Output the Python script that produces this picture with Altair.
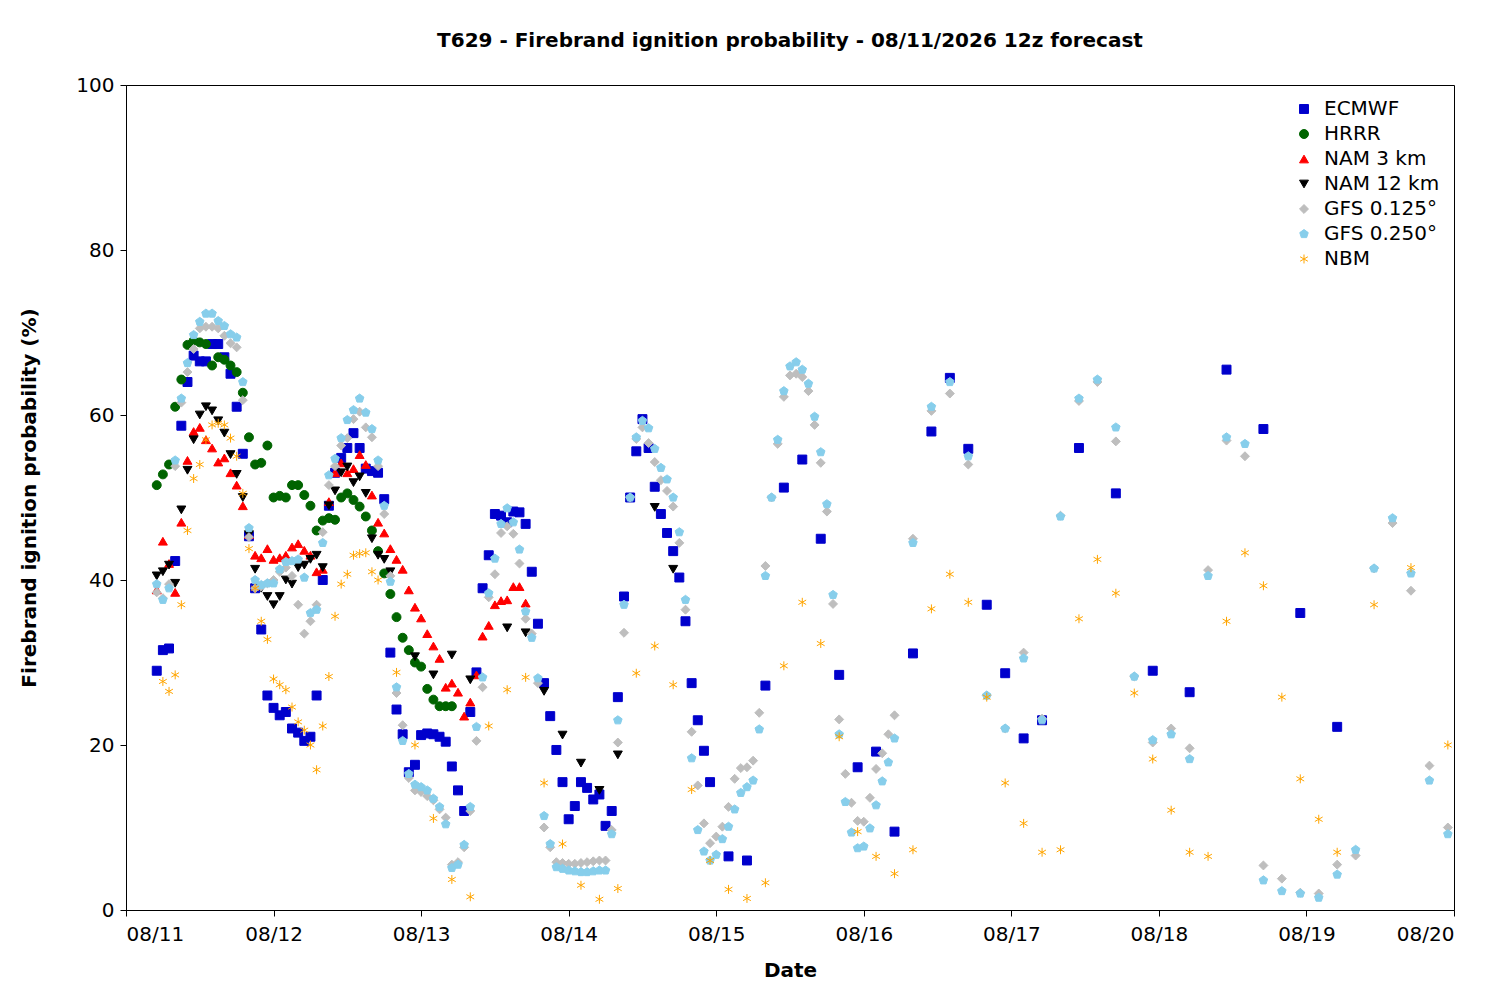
import altair as alt
import pandas as pd

MODELS = ["ECMWF", "HRRR", "NAM 3 km", "NAM 12 km", "GFS 0.125°", "GFS 0.250°", "NBM"]
COLORS = ["#0000cc", "#006400", "#ff0000", "#000000", "#bebebe", "#87ceeb", "#ffa500"]
PENTAGON = "M0,-1L0.951,-0.309L0.588,0.809L-0.588,0.809L-0.951,-0.309Z"
ASTERISK = "M0,-1L0,1M-0.87,-0.5L0.87,0.5M-0.87,0.5L0.87,-0.5"
SHAPES = ["square", "circle", "triangle-up", "triangle-down", "diamond", PENTAGON, ASTERISK]
DAY_LABELS = ["08/11", "08/12", "08/13", "08/14", "08/15", "08/16", "08/17", "08/18", "08/19", "08/20"]

# hours since 08/11 00z
ECMWF_H = list(range(5, 96)) + list(range(98, 150, 3)) + list(range(155, 198, 6))
ECMWF_V = [29, 31.5, 31.7, 42.3, 58.7, 64, 67.2, 66.5, 66.5, 68.6,
           68.6, 67, 65, 61, 55.3, 45.3, 39, 34, 26, 24.5,
           23.6, 24, 22, 21.5, 20.5, 21, 26, 40, 49, 53,
           54.8, 56, 57.8, 56, 53.5, 53.2, 53, 49.8, 31.2, 24.3,
           21.3, 16.7, 17.6, 21.2, 21.4, 21.3, 21, 20.4, 17.4, 14.5,
           12, 24, 28.8, 39, 43, 48, 47.8, 47, 48.3, 48.2,
           46.8, 41, 34.7, 27.5, 23.5, 19.4, 15.5, 11, 12.6, 15.5,
           14.8, 13.4, 14, 10.2, 12, 25.8, 38, 50, 55.6, 59.5,
           56, 51.3, 48, 45.7, 43.5, 40.3, 35, 27.5, 23, 19.3,
           15.5,
           6.5, 6, 27.2, 51.2, 54.6, 45, 28.5, 17.3, 19.2, 9.5,
           31.1, 58, 64.5, 55.9, 37, 28.7, 20.8, 23,
           56, 50.5, 29, 26.4, 65.5, 58.3, 36, 22.2]

HRRR_H = list(range(5, 54))
HRRR_V = [51.5, 52.8, 54, 61, 64.3, 68.5, 69, 68.8, 68.6, 66,
          67, 66.7, 66, 65.2, 62.7, 57.3, 54, 54.2, 56.3, 50,
          50.2, 50, 51.5, 51.5, 50.3, 49, 46, 47.2, 47.5, 47.3,
          50, 50.5, 49.7, 48.9, 47.7, 46, 43.5, 40.8, 38.3, 35.5,
          33, 31.5, 30, 29.5, 26.8, 25.5, 24.7, 24.7, 24.7]

NAM3_H = list(range(5, 66))
NAM3_V = [38.8, 44.7, 42, 38.5, 47, 54.5, 58, 58.5, 57, 56,
          54.3, 54.8, 53, 51.5, 49, 45.5, 43, 42.7, 43.8, 42.5,
          42.7, 43, 44, 44.4, 43.6, 43, 41, 41.3, 49.5, 53,
          54.2, 53, 53.5, 55.2, 54, 50.3, 47, 45.7, 43.8, 42.5,
          41.3, 38.8, 36.7, 35.4, 33.5, 32, 30.5, 27, 27.5, 26.4,
          23.5, 25.2, 28.5, 33.2, 34.5, 37, 37.5, 37.6, 39.2, 39.2,
          37.2]

NAM12_H = list(range(5, 44)) + [47, 50, 53, 56, 62, 65, 68, 71, 74, 77, 80, 86, 89]
NAM12_V = [40.5, 41, 41.8, 39.6, 48.5, 53.3, 57, 60, 61, 60.5,
           59.3, 57.8, 55.2, 52.8, 50, 45.5, 41.3, 39, 38, 37,
           38, 40, 39.5, 41.5, 41.8, 42.5, 43, 41.5, 49, 50.8,
           53, 53.7, 51.8, 52.5, 50.5, 45, 43, 42.5, 41,
           30.7, 28.5, 30.9, 27.9, 34.2, 33.6, 26.5, 21.2, 17.8, 14.5, 18.8, 48.8, 41.3]

GFS_H = list(range(5, 126)) + list(range(128, 216, 3))
GFS125_V = [38.5, 37.8, 39.5, 53.8, 61.5, 65.2, 68, 70.5, 70.7, 70.7,
            70.5, 69.6, 68.7, 68.2, 61.8, 45.2, 39, 39.2, 39.6, 40,
            41, 41.5, 40.5, 37, 33.5, 35, 37, 45.8, 51.5, 53.8,
            56.3, 57.2, 59.5, 60.4, 58.5, 57.3, 53.8, 48, 40.5, 26.3,
            22.4, 16, 14.5, 14.3, 13.8, 13.3, 12.2, 11.2, 5.5, 5.8, 7.6,
            12, 20.5, 27, 37.9, 40.7, 45.7, 46.5, 45.6, 42, 35.3,
            33.5, 27.5, 10, 7.6,
            5.8, 5.7, 5.6, 5.6, 5.7, 5.8, 5.9, 6, 6,
            9.7, 20.3, 33.6, 50, 57.1, 58.5, 56.6, 54.3, 52.1, 50.8,
            48.9, 44.5, 36.4, 21.6, 15.1, 10.5, 8.1, 8.9, 10.1, 12.5,
            15.9, 17.2, 17.3, 18.1, 23.9, 41.7, 50, 56.5, 62.2, 64.8,
            65, 64.6, 62.9, 58.8, 54.2, 48.3, 37.1, 23.1, 16.5, 13,
            10.8, 10.7, 13.6, 17.1, 19, 21.3, 23.6,
            45, 60.5, 62.6, 54, 26, 22, 31.2, 23.2, 47.8, 61.7,
            64, 56.8, 28.3, 20.3, 22, 19.6, 41.2, 56.9, 55, 5.4,
            3.8, 2.1, 2, 5.5, 6.6, 41.4, 46.9, 38.7, 17.5, 10]
GFS250_V = [39.5, 37.6, 39, 54.5, 62, 66.3, 69.7, 71.3, 72.3, 72.3,
            71.4, 70.8, 69.8, 69.4, 64, 46.3, 40, 39.4, 39.6, 39.6,
            41.3, 42.2, 42.3, 42.5, 40.3, 36, 36.4, 44.5, 52.7, 54.7,
            57.2, 59.4, 60.6, 62, 60.3, 58.3, 54.5, 49, 39.8, 27,
            20.5, 16.5, 15.2, 14.9, 14.5, 13.5, 12.5, 10.4, 5.1, 5.5, 7.9,
            12.5, 22.2, 28.2, 38.4, 42.6, 46.8, 48.7, 47, 43.7, 36.2,
            33, 28.1, 11.4, 8,
            5.2, 5, 4.8, 4.7, 4.6, 4.6, 4.7, 4.8, 4.8,
            9.2, 23, 37, 50, 57.3, 59.3, 58.4, 55.9, 53.6, 52.2,
            50, 45.8, 37.6, 18.4, 9.7, 7.1, 6, 6.7, 8.6, 10.1,
            12.2, 14.2, 14.9, 15.7, 21.9, 40.5, 50, 57, 62.9, 65.9,
            66.4, 65.5, 63.8, 59.8, 55.5, 49.2, 38.2, 21.3, 13.1, 9.4,
            7.5, 7.7, 9.9, 12.7, 15.6, 17.9, 20.8,
            44.5, 61, 64, 55, 26, 22, 30.5, 23, 47.7, 62,
            64.3, 58.5, 28.3, 20.6, 21.3, 18.3, 40.5, 57.3, 56.5, 3.6,
            2.3, 2, 1.5, 4.3, 7.3, 41.4, 47.5, 40.8, 15.7, 9.2]

NBM_H = list(range(6, 42)) + list(range(44, 198, 3)) + [203, 209, 215]
NBM_V = [27.7, 26.5, 28.5, 37, 46, 52.3, 54, 57, 58.8, 59,
         58.8, 57.2, 55, 50.5, 43.8, 39, 35, 32.8, 28, 27.3,
         26.7, 24.6, 22.8, 21.8, 20, 17, 22.3, 28.3, 35.6, 39.5,
         40.7, 43, 43.2, 43.3, 41, 40,
         28.8, 20, 11.1, 3.7, 1.6, 22.3, 26.7, 28.2, 15.4, 8,
         3, 1.3, 2.6, 28.7, 32, 27.3, 14.6, 6, 2.5, 1.4,
         3.3, 29.6, 37.3, 32.3, 21, 9.5, 6.5, 4.4, 7.3, 36.5,
         40.7, 37.3, 25.8, 15.4, 10.5, 7, 7.3, 35.3, 42.5, 38.4,
         26.3, 18.3, 12.1, 7, 6.5, 35, 43.3, 39.3, 25.8, 15.9,
         11, 7,
         37, 41.5, 20]

SERIES = [
    ("ECMWF", ECMWF_H, ECMWF_V),
    ("HRRR", HRRR_H, HRRR_V),
    ("NAM 3 km", NAM3_H, NAM3_V),
    ("NAM 12 km", NAM12_H, NAM12_V),
    ("GFS 0.125°", GFS_H, GFS125_V),
    ("GFS 0.250°", GFS_H, GFS250_V),
    ("NBM", NBM_H, NBM_V),
]

rows = []
for order, (name, hrs, vals) in enumerate(SERIES):
    for h, v in zip(hrs, vals):
        rows.append({"model": name, "hour": h, "prob": v, "order": order})
df = pd.DataFrame(rows)

FONT = "DejaVu Sans"
label_expr = "[" + ",".join("'%s'" % d for d in DAY_LABELS) + "][round(datum.value/24)]"

legend = alt.Legend(title=None, orient="top-right", offset=14, labelFontSize=20,
                    labelFont=FONT, symbolSize=80, rowPadding=5, labelLimit=300,
                    symbolStrokeWidth=1, labelOffset=10)

chart = alt.Chart(df).mark_point(size=80, strokeWidth=1, opacity=1).encode(
    x=alt.X("hour:Q", scale=alt.Scale(domain=[0, 216], nice=False),
            axis=alt.Axis(values=list(range(0, 217, 24)), labelExpr=label_expr,
                          title="Date", grid=False, tickSize=6, labelPadding=8,
                          titlePadding=16)),
    y=alt.Y("prob:Q", scale=alt.Scale(domain=[0, 100], nice=False),
            axis=alt.Axis(values=list(range(0, 101, 20)), grid=False,
                          title="Firebrand ignition probability (%)",
                          tickSize=6, labelPadding=6, titlePadding=36)),
    shape=alt.Shape("model:N", scale=alt.Scale(domain=MODELS, range=SHAPES), legend=legend),
    fill=alt.Fill("model:N", scale=alt.Scale(domain=MODELS, range=COLORS), legend=legend),
    stroke=alt.Stroke("model:N", scale=alt.Scale(domain=MODELS, range=COLORS), legend=legend),
    order=alt.Order("order:Q"),
).properties(
    width=1328, height=825,
    autosize=alt.AutoSizeParams(type="none"),
    padding={"left": 118, "top": 77, "right": 38, "bottom": 82},
    title=alt.TitleParams("T629 - Firebrand ignition probability - 08/11/2026 12z forecast",
                          fontSize=20, font=FONT, fontWeight="bold", offset=24, anchor="middle"),
).configure_axis(
    labelFont=FONT, titleFont=FONT, labelFontSize=20, titleFontSize=20,
    titleFontWeight="bold", labelColor="black", titleColor="black",
    domainColor="black", tickColor="black",
).configure_view(stroke="black", strokeWidth=1)

chart.save("out.html", embed_options={"renderer": "svg", "actions": False})
